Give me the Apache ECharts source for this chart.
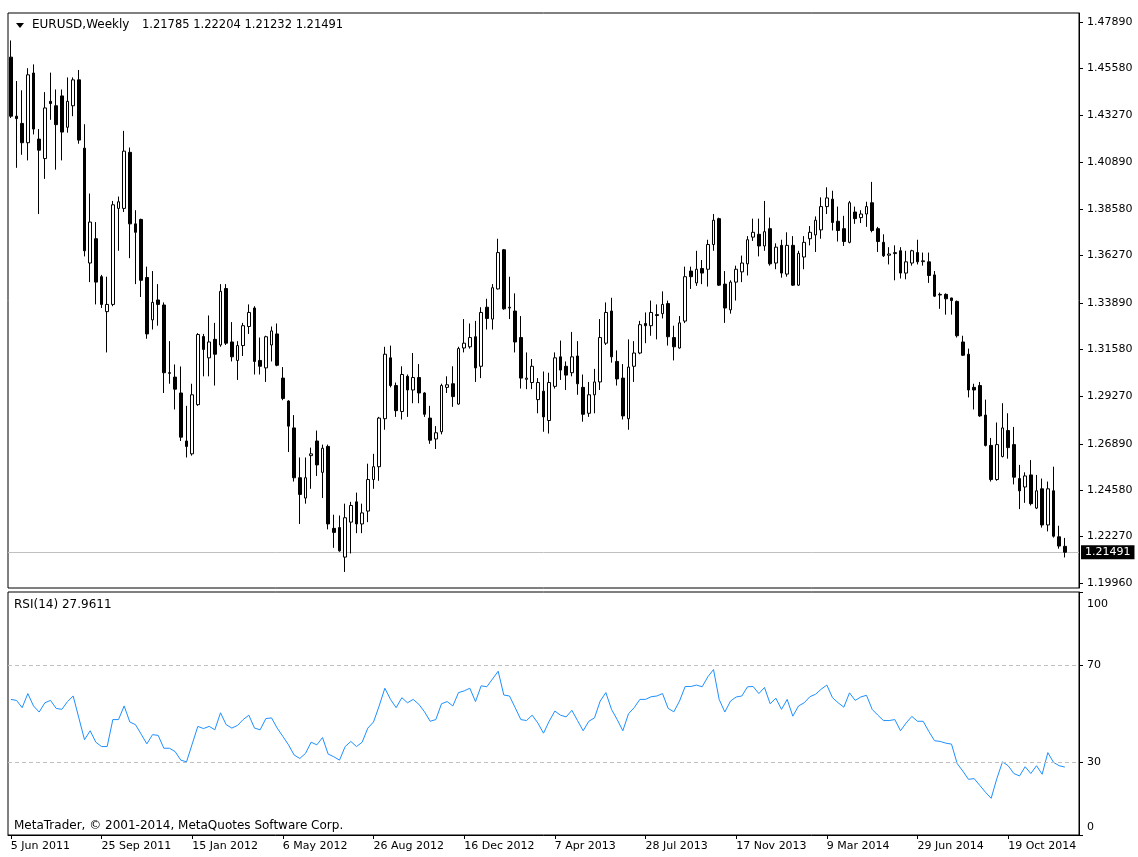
<!DOCTYPE html>
<html lang="en">
<head>
    <meta charset="UTF-8">
    <title>EURUSD,Weekly</title>
    <script src="https://cdn.jsdelivr.net/npm/echarts@6/dist/echarts.min.js"></script>
    <style>
        html, body { margin: 0; padding: 0; background: #fff; }
        #main { width: 1138px; height: 857px; }
    </style>
</head>
<body>
<div id="main"></div>
<script type="text/javascript">
    // weekly bars, 5 Jun 2011 .. 28 Dec 2014
    var opens = [
        1.4614, 1.4320, 1.4284, 1.4188, 1.4535, 1.4206, 1.4109, 1.4394, 1.4372, 1.4421,
        1.4265, 1.4372, 1.4501, 1.4161, 1.3589, 1.3710, 1.3521, 1.3347, 1.3383, 1.3861,
        1.3861, 1.4140, 1.3784, 1.3806, 1.3517, 1.3306, 1.3405, 1.3380, 1.3043, 1.3021,
        1.2942, 1.2703, 1.2639, 1.2884, 1.3223, 1.3117, 1.3209, 1.3181, 1.3462, 1.3196,
        1.3104, 1.3178, 1.3273, 1.3365, 1.3104, 1.3067, 1.3181, 1.3236, 1.3016, 1.2902,
        1.2768, 1.2520, 1.2419, 1.2630, 1.2703, 1.2547, 1.2676, 1.2268, 1.2272, 1.2125,
        1.2299, 1.2400, 1.2290, 1.2354, 1.2511, 1.2575, 1.2814, 1.3117, 1.2979, 1.2850,
        1.3025, 1.2957, 1.3019, 1.2942, 1.2817, 1.2713, 1.2749, 1.2970, 1.2988, 1.2887,
        1.3166, 1.3172, 1.3222, 1.3075, 1.3369, 1.3310, 1.3460, 1.3655, 1.3365, 1.3350,
        1.3218, 1.3010, 1.2994, 1.2909, 1.2951, 1.2805, 1.2975, 1.3122, 1.3075, 1.3043,
        1.3126, 1.2970, 1.2841, 1.2933, 1.2997, 1.3190, 1.3350, 1.3099, 1.3016, 1.2814,
        1.3075, 1.3141, 1.3288, 1.3277, 1.3332, 1.3337, 1.3387, 1.3218, 1.3166, 1.3300,
        1.3549, 1.3490, 1.3562, 1.3558, 1.3681, 1.3810, 1.3484, 1.3356, 1.3494, 1.3545,
        1.3585, 1.3718, 1.3732, 1.3674, 1.3760, 1.3589, 1.3677, 1.3534, 1.3677, 1.3479,
        1.3619, 1.3710, 1.3729, 1.3754, 1.3870, 1.3907, 1.3797, 1.3760, 1.3692, 1.3843,
        1.3815, 1.3833, 1.3889, 1.3760, 1.3692, 1.3628, 1.3636, 1.3650, 1.3539, 1.3589,
        1.3641, 1.3596, 1.3595, 1.3530, 1.3430, 1.3433, 1.3415, 1.3398, 1.3196, 1.3135,
        1.2970, 1.2979, 1.2832, 1.2681, 1.2511, 1.2626, 1.2755, 1.2685, 1.2516, 1.2474,
        1.2534, 1.2369, 1.2465, 1.2285, 1.2455, 1.2226, 1.21785
    ];
    var highs = [
        1.4697, 1.4495, 1.4449, 1.4559, 1.4578, 1.4256, 1.4440, 1.4537, 1.4453, 1.4453,
        1.4513, 1.4513, 1.4550, 1.4280, 1.3935, 1.3793, 1.3530, 1.3521, 1.3898, 1.3920,
        1.4247, 1.4164, 1.3852, 1.3810, 1.3571, 1.3549, 1.3484, 1.3393, 1.3200, 1.3084,
        1.3074, 1.2878, 1.2988, 1.3240, 1.3236, 1.3328, 1.3291, 1.3484, 1.3484, 1.3295,
        1.3200, 1.3291, 1.3383, 1.3374, 1.3218, 1.3227, 1.3273, 1.3288, 1.3071, 1.2906,
        1.2832, 1.2621, 1.2621, 1.2670, 1.2755, 1.2685, 1.2685, 1.2336, 1.2332, 1.2391,
        1.2400, 1.2446, 1.2391, 1.2590, 1.2639, 1.2823, 1.3172, 1.3178, 1.2994, 1.3075,
        1.3034, 1.3141, 1.3086, 1.2946, 1.2878, 1.2777, 1.2988, 1.3025, 1.3075, 1.3172,
        1.3310, 1.3288, 1.3301, 1.3369, 1.3411, 1.3484, 1.3710, 1.3659, 1.3521, 1.3438,
        1.3325, 1.3144, 1.3111, 1.3016, 1.3049, 1.3043, 1.3144, 1.3203, 1.3099, 1.3246,
        1.3200, 1.3034, 1.2997, 1.3062, 1.3310, 1.3393, 1.3416, 1.3154, 1.3086, 1.3209,
        1.3200, 1.3301, 1.3343, 1.3402, 1.3383, 1.3448, 1.3402, 1.3277, 1.3325, 1.3571,
        1.3571, 1.3650, 1.3604, 1.3705, 1.3833, 1.3815, 1.3549, 1.3503, 1.3576, 1.3626,
        1.3723, 1.3810, 1.3810, 1.3898, 1.3815, 1.3687, 1.3705, 1.3742, 1.3723, 1.3650,
        1.3723, 1.3773, 1.3821, 1.3916, 1.3966, 1.3949, 1.3870, 1.3824, 1.3898, 1.3870,
        1.3852, 1.3894, 1.3993, 1.3769, 1.3732, 1.3668, 1.3677, 1.3668, 1.3650, 1.3655,
        1.3705, 1.3641, 1.3641, 1.3549, 1.3442, 1.3438, 1.3416, 1.3402, 1.3227, 1.3163,
        1.2988, 1.2997, 1.2909, 1.2718, 1.2795, 1.2891, 1.2841, 1.2773, 1.2584, 1.2547,
        1.2608, 1.2534, 1.2516, 1.2501, 1.2575, 1.2281, 1.22204
    ];
    var lows = [
        1.4311, 1.4063, 1.4128, 1.4100, 1.4229, 1.3833, 1.4008, 1.4302, 1.4054, 1.4100,
        1.4238, 1.4320, 1.4183, 1.3622, 1.3494, 1.3383, 1.3365, 1.3144, 1.3374, 1.3650,
        1.3843, 1.3613, 1.3484, 1.3420, 1.3212, 1.3258, 1.3277, 1.2942, 1.2988, 1.2860,
        1.2703, 1.2621, 1.2630, 1.2878, 1.3025, 1.3025, 1.2979, 1.3172, 1.3181, 1.3099,
        1.3007, 1.3126, 1.3236, 1.3034, 1.3034, 1.2997, 1.3099, 1.3075, 1.2906, 1.2648,
        1.2501, 1.2290, 1.2391, 1.2465, 1.2529, 1.2419, 1.2263, 1.2171, 1.2152, 1.2051,
        1.2143, 1.2244, 1.2244, 1.2299, 1.2465, 1.2505, 1.2759, 1.2970, 1.2823, 1.2810,
        1.2823, 1.2891, 1.2891, 1.2823, 1.2689, 1.2663, 1.2736, 1.2942, 1.2873, 1.2884,
        1.3144, 1.3163, 1.2997, 1.3016, 1.3258, 1.3258, 1.3457, 1.3356, 1.3310, 1.3144,
        1.2964, 1.2961, 1.2961, 1.2841, 1.2749, 1.2740, 1.2964, 1.3007, 1.2957, 1.3025,
        1.2933, 1.2799, 1.2823, 1.2841, 1.2957, 1.3181, 1.3093, 1.2979, 1.2810, 1.2759,
        1.2997, 1.3135, 1.3190, 1.3227, 1.3209, 1.3313, 1.3178, 1.3104, 1.3163, 1.3290,
        1.3460, 1.3475, 1.3484, 1.3472, 1.3650, 1.3475, 1.3291, 1.3337, 1.3402, 1.3494,
        1.3527, 1.3699, 1.3622, 1.3650, 1.3576, 1.3558, 1.3516, 1.3521, 1.3475, 1.3475,
        1.3558, 1.3677, 1.3644, 1.3710, 1.3833, 1.3751, 1.3696, 1.3674, 1.3687, 1.3784,
        1.3788, 1.3769, 1.3742, 1.3644, 1.3619, 1.3582, 1.3503, 1.3512, 1.3508, 1.3576,
        1.3582, 1.3576, 1.3490, 1.3420, 1.3361, 1.3332, 1.3332, 1.3218, 1.3126, 1.2920,
        1.2860, 1.2823, 1.2676, 1.2501, 1.2505, 1.2621, 1.2615, 1.2487, 1.2364, 1.2395,
        1.2382, 1.2364, 1.2272, 1.2253, 1.2222, 1.2167, 1.21232
    ];
    var closes = [
        1.4320, 1.4308, 1.4188, 1.4526, 1.4256, 1.4151, 1.4361, 1.4383, 1.4278, 1.4241,
        1.4394, 1.4501, 1.4201, 1.3650, 1.3793, 1.3494, 1.3383, 1.3383, 1.3879, 1.3894,
        1.4146, 1.3784, 1.3742, 1.3503, 1.3236, 1.3393, 1.3383, 1.3043, 1.3040, 1.2961,
        1.2722, 1.2676, 1.2933, 1.3233, 1.3159, 1.3196, 1.3135, 1.3448, 1.3190, 1.3122,
        1.3178, 1.3277, 1.3343, 1.3099, 1.3075, 1.3222, 1.3251, 1.3080, 1.2915, 1.2777,
        1.2520, 1.2437, 1.2520, 1.2639, 1.2584, 1.2667, 1.2290, 1.2248, 1.2156, 1.2321,
        1.2382, 1.2290, 1.2345, 1.2511, 1.2575, 1.2817, 1.3135, 1.2979, 1.2854, 1.3034,
        1.2957, 1.3019, 1.2942, 1.2836, 1.2707, 1.2744, 1.2979, 1.2983, 1.2924, 1.3163,
        1.3190, 1.3218, 1.3067, 1.3343, 1.3313, 1.3466, 1.3641, 1.3361, 1.3369, 1.3196,
        1.3016, 1.3016, 1.3075, 1.2994, 1.2823, 1.2994, 1.3117, 1.3056, 1.3031, 1.3122,
        1.2988, 1.2836, 1.2933, 1.2997, 1.3218, 1.3343, 1.3122, 1.3012, 1.2828, 1.3071,
        1.3141, 1.3282, 1.3277, 1.3343, 1.3328, 1.3383, 1.3222, 1.3172, 1.3291, 1.3521,
        1.3521, 1.3558, 1.3539, 1.3681, 1.3802, 1.3479, 1.3365, 1.3494, 1.3558, 1.3589,
        1.3705, 1.3742, 1.3674, 1.3745, 1.3585, 1.3668, 1.3539, 1.3677, 1.3479, 1.3637,
        1.3692, 1.3742, 1.3802, 1.3870, 1.3913, 1.3791, 1.3751, 1.3696, 1.3889, 1.3810,
        1.3833, 1.3870, 1.3751, 1.3696, 1.3625, 1.3634, 1.3641, 1.3539, 1.3595, 1.3650,
        1.3595, 1.3600, 1.3527, 1.3424, 1.3433, 1.3411, 1.3402, 1.3227, 1.3130, 1.2957,
        1.2957, 1.2828, 1.2681, 1.2511, 1.2685, 1.2768, 1.2670, 1.2523, 1.2455, 1.2529,
        1.2391, 1.2455, 1.2285, 1.2465, 1.2229, 1.2180, 1.21491
    ];
    // RSI(14) as drawn in the lower window
    var rsi = [
        55.8, 55.4, 52.4, 58.2, 53.1, 50.6, 54.4, 55.4, 52.1, 51.7,
        54.9, 57.2, 48.2, 39.2, 42.9, 38.2, 36.4, 36.4, 47.5, 47.5,
        53.1, 46.5, 45.4, 41.5, 37.5, 41.3, 41.0, 35.7, 35.7, 34.3,
        30.8, 30.1, 37.4, 44.7, 43.8, 44.7, 43.3, 50.3, 45.4, 44.0,
        45.1, 47.5, 49.3, 44.0, 43.3, 47.9, 48.2, 44.0, 40.6, 37.1,
        32.9, 31.5, 33.6, 38.2, 37.1, 40.1, 33.3, 32.2, 30.8, 36.4,
        38.5, 36.4, 38.2, 44.0, 46.5, 53.1, 60.4, 55.8, 52.4, 56.5,
        54.4, 55.8, 53.8, 50.7, 46.8, 47.5, 54.0, 54.9, 53.1, 58.6,
        59.3, 60.4, 54.9, 61.4, 61.0, 64.2, 67.4, 57.6, 57.2, 52.4,
        47.5, 47.1, 49.3, 46.1, 41.9, 46.8, 51.0, 49.3, 48.6, 51.3,
        47.1, 42.9, 46.8, 48.2, 55.1, 58.6, 51.7, 47.5, 42.9, 49.9,
        52.4, 55.8, 55.8, 56.9, 57.2, 58.2, 52.1, 50.7, 55.1, 61.1,
        61.1, 61.7, 61.0, 65.1, 68.1, 55.8, 50.6, 55.1, 56.8, 57.2,
        61.0, 61.1, 58.2, 60.7, 54.0, 56.3, 51.7, 55.8, 48.9, 53.1,
        54.4, 56.9, 57.9, 60.0, 61.7, 56.5, 54.4, 52.6, 58.5, 55.4,
        56.8, 57.5, 51.7, 49.3, 47.1, 47.1, 47.5, 42.9, 46.1, 48.8,
        46.8, 46.8, 42.6, 38.8, 38.5, 37.8, 37.4, 29.4, 26.3, 22.9,
        23.2, 20.4, 17.6, 15.1, 23.2, 30.1, 28.5, 25.3, 24.3, 28.1,
        25.3, 28.5, 25.0, 33.9, 29.9, 28.5, 27.9611
    ];
    var priceTicks = [1.19960, 1.22270, 1.24580, 1.26890, 1.29270, 1.31580, 1.33890,
        1.36270, 1.38580, 1.40890, 1.43270, 1.45580, 1.47890];
    var rsiTicks = [0, 30, 70, 100];
    var rsiLevels = [70, 30];

    // week labels (2 empty weeks of chart shift on the right)
    var months = ['Jan', 'Feb', 'Mar', 'Apr', 'May', 'Jun', 'Jul', 'Aug', 'Sep', 'Oct', 'Nov', 'Dec'];
    var weeks = [];
    for (var i = 0; i < opens.length + 2; i++) {
        var d = new Date(Date.UTC(2011, 5, 5 + 7 * i));
        weeks.push(d.getUTCDate() + ' ' + months[d.getUTCMonth()] + ' ' + d.getUTCFullYear());
    }

    var candles = opens.map(function (o, i) {
        return [o, closes[i], lows[i], highs[i]];
    });

    var last = opens.length - 1;
    var FONT = 'DejaVu Sans';

    // price window: 1.47890 sits at y=22, 1.19960 at y=583, window spans y=13..588
    var perPx = (1.47890 - 1.19960) / (583 - 22);
    var priceMax = 1.47890 + (22 - 13) * perPx;
    var priceMin = 1.19960 - (588 - 583) * perPx;

    var myChart = echarts.init(document.getElementById('main'));

    var axisText = {color: '#000', fontSize: 11, fontFamily: FONT};

    myChart.setOption({
        animation: false,
        backgroundColor: '#fff',
        textStyle: {fontFamily: FONT},
        grid: [
            {left: 8, width: 1071, top: 13, height: 575, show: true, borderColor: '#000', borderWidth: 1,
                backgroundColor: '#fff', outerBoundsMode: 'none'},
            {left: 8, width: 1071, top: 592, height: 243, show: true, borderColor: '#000', borderWidth: 1,
                backgroundColor: '#fff', outerBoundsMode: 'none'}
        ],
        xAxis: [
            {
                type: 'category', gridIndex: 0, data: weeks, boundaryGap: true,
                axisLine: {show: false}, axisTick: {show: false}, axisLabel: {show: false}, splitLine: {show: false}
            },
            {
                type: 'category', gridIndex: 1, data: weeks, boundaryGap: true,
                axisLine: {show: true, lineStyle: {color: '#000', width: 1}},
                axisTick: {show: true, alignWithLabel: true, interval: 15, length: 4, lineStyle: {color: '#000'}},
                axisLabel: Object.assign({interval: 15, align: 'left', margin: 6}, axisText),
                splitLine: {show: false}
            }
        ],
        yAxis: [
            {
                type: 'value', gridIndex: 0, position: 'right', min: priceMin, max: priceMax,
                splitLine: {show: false},
                axisLine: {show: true, lineStyle: {color: '#000'}},
                axisTick: {show: true, length: 4, customValues: priceTicks, lineStyle: {color: '#000'}},
                axisLabel: Object.assign({
                    customValues: priceTicks, margin: 8,
                    formatter: function (v) { return v.toFixed(5); }
                }, axisText)
            },
            {
                type: 'value', gridIndex: 1, position: 'right', min: 0, max: 100,
                splitLine: {show: false},
                axisLine: {show: true, lineStyle: {color: '#000'}},
                axisTick: {show: true, length: 4, customValues: rsiTicks, lineStyle: {color: '#000'}},
                axisLabel: Object.assign({customValues: [30, 70], margin: 8}, axisText)
            },
            {
                type: 'value', gridIndex: 1, position: 'right', min: 0, max: 100,
                splitLine: {show: false}, axisLine: {show: false}, axisTick: {show: false},
                axisLabel: Object.assign({customValues: [100], margin: 8, verticalAlign: 'top', padding: [7, 0, 0, 0]}, axisText)
            },
            {
                type: 'value', gridIndex: 1, position: 'right', min: 0, max: 100,
                splitLine: {show: false}, axisLine: {show: false}, axisTick: {show: false},
                axisLabel: Object.assign({customValues: [0], margin: 8, verticalAlign: 'bottom', padding: [0, 0, 2, 0]}, axisText)
            }
        ],
        series: [
            {
                name: 'EURUSD',
                type: 'candlestick',
                xAxisIndex: 0,
                yAxisIndex: 0,
                data: candles,
                barWidth: 3,
                itemStyle: {color: '#fff', color0: '#000', borderColor: '#000', borderColor0: '#000', borderWidth: 1},
                markLine: {
                    silent: true,
                    symbol: 'none',
                    precision: 5,
                    z: 1,
                    lineStyle: {color: '#c0c0c0', type: 'solid', width: 1},
                    label: {
                        show: true, position: 'end', distance: 2,
                        formatter: closes[last].toFixed(5),
                        backgroundColor: '#000', color: '#fff', padding: [2, 4, 1, 4],
                        fontSize: 11, fontFamily: FONT
                    },
                    data: [{yAxis: closes[last]}]
                }
            },
            {
                name: 'RSI(14)',
                type: 'line',
                xAxisIndex: 1,
                yAxisIndex: 1,
                data: rsi,
                symbol: 'none',
                lineStyle: {color: '#1E90FF', width: 1},
                markLine: {
                    silent: true,
                    symbol: 'none',
                    lineStyle: {color: '#c0c0c0', type: [4, 3], width: 1},
                    label: {show: false},
                    data: rsiLevels.map(function (v) { return {yAxis: v}; })
                }
            }
        ],
        graphic: [
            {type: 'polygon', shape: {points: [[16, 23], [24, 23], [20, 28]]}, style: {fill: '#000'}},
            {type: 'text', left: 32, top: 19, style: {text: 'EURUSD,Weekly', font: '12px ' + FONT, fill: '#000'}},
            {
                type: 'text', left: 142, top: 19,
                style: {
                    text: [opens[last], highs[last], lows[last], closes[last]].map(function (v) {
                        return v.toFixed(5);
                    }).join(' '),
                    font: '11.5px ' + FONT, fill: '#000'
                }
            },
            {type: 'text', left: 14, top: 599, style: {text: 'RSI(14) ' + rsi[last].toFixed(4), font: '12px ' + FONT, fill: '#000'}},
            {type: 'text', left: 14, top: 820, style: {text: 'MetaTrader, © 2001-2014, MetaQuotes Software Corp.', font: '12px ' + FONT, fill: '#000'}}
        ]
    });
</script>
</body>
</html>
